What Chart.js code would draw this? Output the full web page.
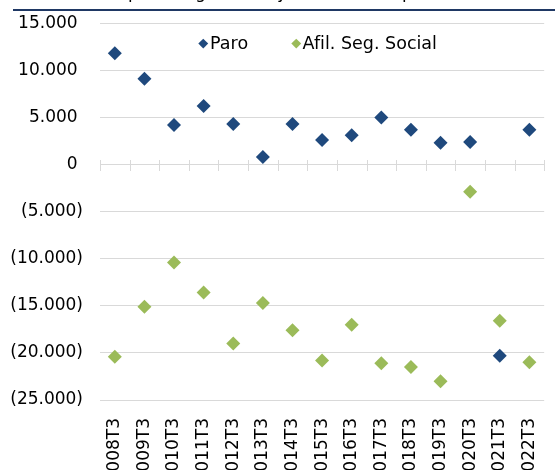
<!DOCTYPE html>
<html lang="es">
<head>
  <meta charset="UTF-8" />
  <title>Paro y afiliados</title>
  <script src="https://cdn.jsdelivr.net/npm/chart.js"></script>
  <style>
    html, body { margin: 0; padding: 0; overflow: hidden; background: #fff; }
    #lienzo { position: relative; width: 560px; height: 470px; font-family: "DejaVu Sans", sans-serif; }
    #grafico { position: absolute; left: 0; top: -4px; width: 560px; height: 474px; }
    .titulo {
      position: absolute; left: 13px; right: 0; top: -16px;
      font-size: 17px; line-height: 17px; padding-bottom: 8px;
      border-bottom: 2px solid #1f3864; color: #000; white-space: nowrap;
    }
    .leyenda-item {
      position: absolute; top: 33px; height: 20px; line-height: 20px;
      display: flex; align-items: center; font-size: 17.5px; color: #000;
    }
    .marca { width: 6.5px; height: 6.5px; transform: rotate(45deg); margin-right: 3.6px; }
  </style>
</head>
<body>
  <div id="lienzo">
    <div id="grafico"><canvas id="chart"></canvas></div>
    <div class="titulo">Variación del paro (registrado) y afiliados (en personas, tercer trimestre)</div>
    <div class="leyenda-item" style="left:200px"><span class="marca" style="background:#1f497d"></span>Paro</div>
    <div class="leyenda-item" style="left:292.5px"><span class="marca" style="background:#9bbb59"></span>Afil. Seg. Social</div>
  </div>

  <script>
    // datos (variación interanual, personas)
    const trimestres = ['2008T3', '2009T3', '2010T3', '2011T3', '2012T3', '2013T3', '2014T3', '2015T3',
                        '2016T3', '2017T3', '2018T3', '2019T3', '2020T3', '2021T3', '2022T3'];
    const paro = [11800, 9100, 4200, 6200, 4300, 800, 4300, 2600, 3100, 5000, 3700, 2300, 2400, -20300, 3700];
    const afiliados = [-20400, -15100, -10400, -13600, -19000, -14700, -17600, -20800, -17000, -21100,
                       -21500, -23000, -2900, -16600, -21000];
    const ejeMin = -25000;
    const ejeMax = 15000;
    const ejePaso = 5000;

    const colorParo = '#1f497d';
    const colorAfil = '#9bbb59';
    const colorRejilla = '#d9d9d9';

    function miles(v) {
      return Math.abs(v).toString().replace(/\B(?=(\d{3})+(?!\d))/g, '.');
    }

    // marcas pequeñas sobre la línea del cero
    const marcasCero = {
      id: 'marcasCero',
      beforeDatasetsDraw(chart) {
        const { ctx, scales: { x, y } } = chart;
        const y0 = Math.round(y.getPixelForValue(0));
        const paso = x.getPixelForValue(1) - x.getPixelForValue(0);
        ctx.save();
        ctx.strokeStyle = colorRejilla;
        ctx.lineWidth = 1;
        ctx.beginPath();
        for (let i = 0; i <= trimestres.length; i++) {
          const px = Math.round(x.getPixelForValue(i) - paso / 2) + 0.5;
          ctx.moveTo(px, y0 - 5);
          ctx.lineTo(px, y0 + 6);
        }
        ctx.stroke();
        ctx.restore();
      }
    };

    Chart.defaults.font.family = '"DejaVu Sans", sans-serif';
    Chart.defaults.color = '#000';

    new Chart(document.getElementById('chart').getContext('2d'), {
      type: 'line',
      data: {
        labels: trimestres,
        datasets: [
          {
            label: 'Paro',
            data: paro,
            showLine: false,
            pointStyle: 'rectRot',
            pointRadius: 7,
            pointBackgroundColor: colorParo,
            pointBorderColor: colorParo,
            pointBorderWidth: 0
          },
          {
            label: 'Afil. Seg. Social',
            data: afiliados,
            showLine: false,
            pointStyle: 'rectRot',
            pointRadius: 7,
            pointBackgroundColor: colorAfil,
            pointBorderColor: colorAfil,
            pointBorderWidth: 0
          }
        ]
      },
      options: {
        responsive: true,
        maintainAspectRatio: false,
        animation: false,
        layout: { padding: { top: 18, right: 1, left: 0, bottom: 0 } },
        plugins: {
          legend: { display: false },
          tooltip: { enabled: false }
        },
        scales: {
          x: {
            offset: true,
            grid: { display: false },
            border: { display: false },
            ticks: {
              autoSkip: false,
              minRotation: 90,
              maxRotation: 90,
              padding: 10,
              font: { size: 17 }
            },
            afterFit: (scale) => { scale.height = 70; }
          },
          y: {
            min: ejeMin,
            max: ejeMax,
            grid: { color: colorRejilla, drawTicks: false },
            border: { display: false },
            ticks: {
              stepSize: ejePaso,
              padding: 17,
              font: { size: 17 },
              callback: (v) => v < 0 ? '(' + miles(v) + ')' : miles(v) + ' '
            },
            afterFit: (scale) => { scale.width = 100; }
          }
        }
      },
      plugins: [marcasCero]
    });
  </script>
</body>
</html>
